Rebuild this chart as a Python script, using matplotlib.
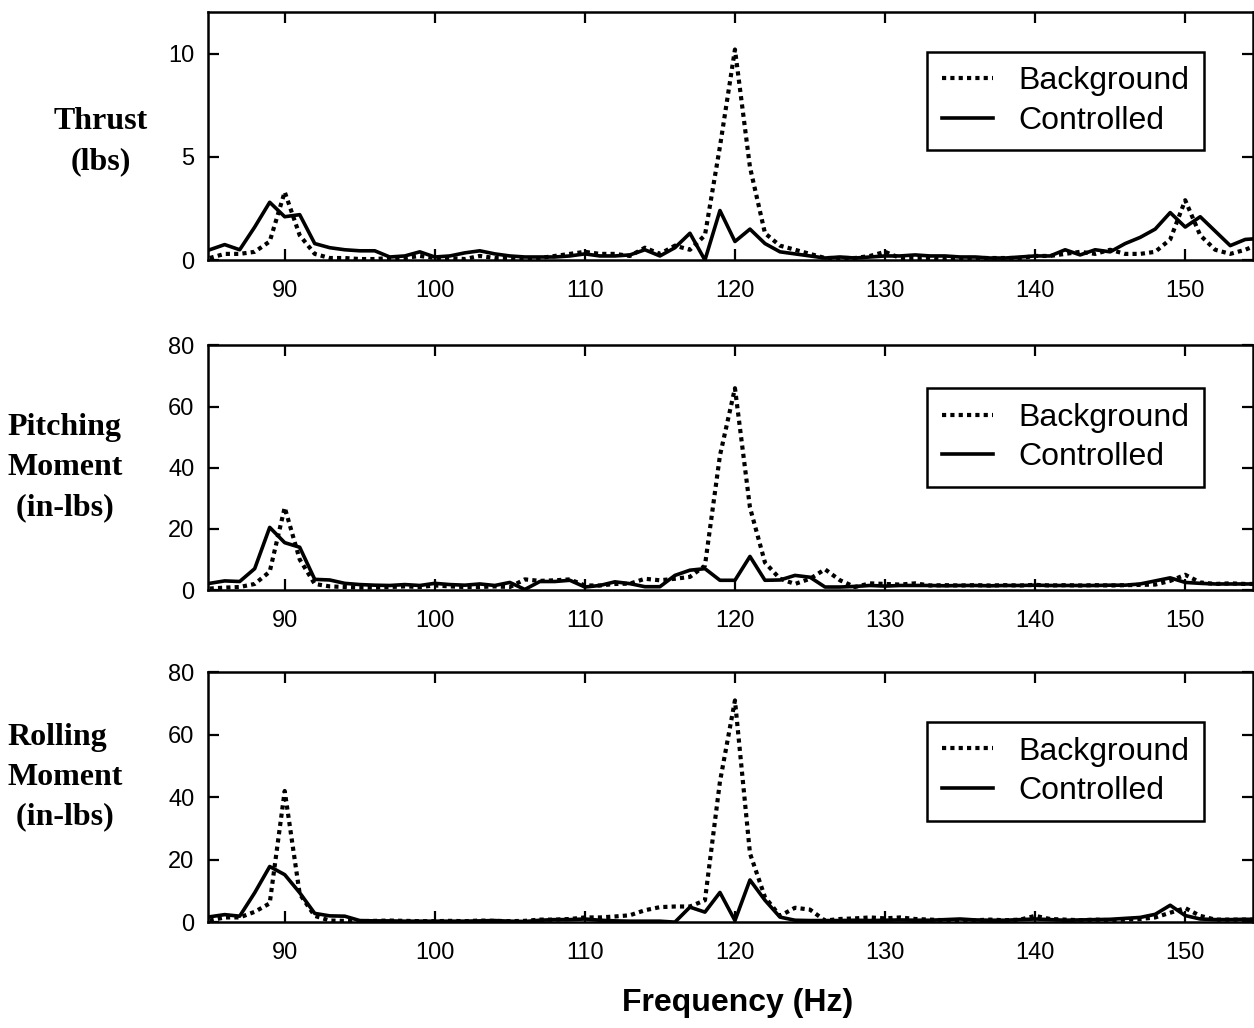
import matplotlib
matplotlib.use("Agg")
import matplotlib.pyplot as plt
import numpy as np

# frequency grid, 1 Hz steps
freq = np.arange(85, 156)

thrust_controlled = [
    0.5, 0.75, 0.5, 1.6, 2.8, 2.1, 2.2, 0.8, 0.6, 0.5,
    0.45, 0.45, 0.15, 0.2, 0.4, 0.15, 0.2, 0.35, 0.45, 0.3,
    0.2, 0.15, 0.15, 0.15, 0.2, 0.3, 0.2, 0.2, 0.25, 0.5,
    0.2, 0.6, 1.3, 0.0, 2.4, 0.9, 1.5, 0.8, 0.4, 0.3,
    0.2, 0.1, 0.15, 0.1, 0.15, 0.2, 0.2, 0.25, 0.2, 0.2,
    0.15, 0.15, 0.1, 0.1, 0.15, 0.2, 0.2, 0.5, 0.25, 0.5,
    0.4, 0.8, 1.1, 1.5, 2.3, 1.6, 2.1, 1.4, 0.7, 1.0,
    1.05,
]
thrust_background = [
    0.1, 0.3, 0.3, 0.4, 0.9, 3.3, 1.2, 0.3, 0.1, 0.1,
    0.05, 0.05, 0.1, 0.1, 0.2, 0.1, 0.1, 0.05, 0.2, 0.1,
    0.1, 0.05, 0.1, 0.2, 0.3, 0.4, 0.3, 0.3, 0.2, 0.6,
    0.3, 0.7, 0.5, 1.2, 5.5, 10.2, 4.5, 1.3, 0.7, 0.5,
    0.3, 0.1, 0.1, 0.1, 0.2, 0.4, 0.1, 0.1, 0.1, 0.05,
    0.1, 0.1, 0.1, 0.1, 0.1, 0.2, 0.2, 0.3, 0.4, 0.3,
    0.5, 0.3, 0.3, 0.4, 1.0, 2.9, 1.2, 0.5, 0.3, 0.5,
    0.8,
]
pitch_controlled = [
    2.2, 3.0, 2.8, 7.0, 20.5, 15.5, 14.0, 3.5, 3.3, 2.2,
    1.8, 1.6, 1.5, 1.8, 1.5, 2.2, 1.8, 1.6, 2.0, 1.5,
    2.5, 0.2, 2.8, 2.8, 3.2, 1.0, 1.5, 2.7, 2.1, 1.1,
    1.1, 4.8, 6.5, 7.0, 3.2, 3.2, 11.0, 3.2, 3.3, 4.8,
    4.2, 1.0, 1.0, 1.2, 1.5, 1.3, 1.5, 1.5, 1.5, 1.4,
    1.5, 1.5, 1.4, 1.5, 1.5, 1.6, 1.5, 1.5, 1.5, 1.5,
    1.6, 1.6, 2.0, 3.0, 4.0, 2.5, 2.2, 2.0, 2.0, 2.0,
    2.0,
]
pitch_background = [
    0.5, 0.8, 1.0, 2.0, 6.0, 27.0, 10.0, 2.0, 1.2, 1.0,
    0.8, 0.8, 1.0, 1.2, 1.0, 1.5, 1.2, 1.0, 1.0, 1.2,
    1.0, 3.5, 3.0, 3.2, 3.5, 1.5, 1.5, 2.0, 2.1, 3.7,
    3.2, 3.7, 4.3, 8.0, 44.0, 66.0, 27.0, 9.0, 3.7, 2.0,
    3.7, 6.8, 3.2, 1.0, 2.2, 2.0, 1.8, 2.2, 1.5, 1.6,
    1.5, 1.6, 1.5, 1.6, 1.5, 1.7, 1.5, 1.6, 1.5, 1.6,
    1.5, 1.6, 1.7, 1.8, 3.0, 5.0, 2.5, 2.0, 2.2, 2.0,
    2.0,
]
roll_controlled = [
    1.7, 2.4, 1.9, 9.4, 17.8, 15.2, 9.4, 2.8, 2.0, 1.9,
    0.5, 0.4, 0.4, 0.3, 0.3, 0.3, 0.3, 0.3, 0.4, 0.5,
    0.3, 0.2, 0.6, 0.8, 0.8, 1.0, 0.6, 0.4, 0.3, 0.3,
    0.3, 0.0, 4.8, 3.2, 9.5, 0.5, 13.5, 7.0, 1.6, 0.6,
    0.5, 0.5, 0.5, 0.6, 0.5, 0.6, 0.7, 0.6, 0.6, 0.8,
    1.0, 0.7, 0.6, 0.6, 0.8, 1.0, 0.8, 0.6, 0.7, 0.8,
    0.9, 1.2, 1.5, 2.5, 5.4, 2.1, 1.0, 0.8, 0.8, 0.9,
    0.9,
]
roll_background = [
    0.5, 1.5, 1.5, 3.3, 6.0, 42.0, 9.0, 2.0, 0.5, 0.4,
    0.3, 0.4, 0.5, 0.4, 0.3, 0.3, 0.4, 0.3, 0.5, 0.4,
    0.3, 0.4, 0.8, 0.8, 1.0, 1.5, 1.5, 1.8, 2.2, 3.8,
    4.8, 5.0, 5.0, 7.0, 45.0, 71.0, 22.0, 8.0, 2.0, 4.6,
    4.0, 0.5, 1.0, 1.2, 1.5, 1.2, 1.5, 1.0, 0.8, 0.6,
    0.5, 0.6, 0.8, 0.6, 0.8, 2.0, 1.0, 0.8, 0.6, 0.8,
    0.6, 0.8, 1.0, 1.5, 3.0, 4.5, 2.0, 0.8, 0.8, 0.8,
    0.8,
]

panel_labels = ["Thrust\n(lbs)", "Pitching\nMoment\n (in-lbs)", "Rolling\nMoment\n (in-lbs)"]
y_limits = [12, 80, 80]
y_ticks = [[0, 5, 10], [0, 20, 40, 60, 80], [0, 20, 40, 60, 80]]
x_ticks = [90, 100, 110, 120, 130, 140, 150]

SANS = ["Liberation Sans", "DejaVu Sans"]
SERIF = ["Liberation Serif", "DejaVu Serif"]

# axes boxes in figure fraction [left, bottom, width, height]
boxes = [
    [0.166, 0.747, 0.833, 0.241],
    [0.166, 0.426, 0.833, 0.238],
    [0.166, 0.103, 0.833, 0.243],
]
# label anchor: (x, y, horizontal alignment)
label_pos = [(0.08, 0.862, "center"), (0.006, 0.545, "left"), (0.006, 0.244, "left")]
legend_top = [0.84, 0.824, 0.80]

series = [
    (thrust_background, thrust_controlled),
    (pitch_background, pitch_controlled),
    (roll_background, roll_controlled),
]

fig = plt.figure(figsize=(12.54, 10.28), dpi=100)

for i, (background, controlled) in enumerate(series):
    ax = fig.add_axes(boxes[i])
    ax.plot(freq, background, color="black", linewidth=3.0, linestyle=(0, (1, 1.0)),
            label="Background")
    ax.plot(freq, controlled, color="black", linewidth=2.6, label="Controlled")
    ax.set_xlim(84.9, 154.5)
    ax.set_ylim(0, y_limits[i])
    ax.set_xticks(x_ticks)
    ax.set_yticks(y_ticks[i])
    ax.tick_params(direction="in", top=True, right=True, length=8, width=1.6,
                   labelsize=17)
    ax.tick_params(axis="x", pad=14)
    ax.tick_params(axis="y", pad=10)
    for label in ax.get_xticklabels() + ax.get_yticklabels():
        label.set_family(SANS)
    for spine in ax.spines.values():
        spine.set_linewidth(1.8)

    leg = ax.legend(loc="upper right", bbox_to_anchor=(0.953, legend_top[i]),
                    borderaxespad=0, fancybox=False, framealpha=1,
                    handlelength=1.6, handletextpad=0.8, borderpad=0.45,
                    labelspacing=0.3, prop={"family": SANS, "size": 23})
    leg.get_frame().set_edgecolor("black")
    leg.get_frame().set_linewidth(1.8)

    lx, ly, ha = label_pos[i]
    fig.text(lx, ly, panel_labels[i], ha=ha, va="center", multialignment=ha,
             family=SERIF, fontweight="bold", fontsize=23, linespacing=1.5)

fig.text(0.588, 0.024, "Frequency (Hz)", ha="center", va="center",
         family=SANS, fontweight="bold", fontsize=23)

fig.savefig("out.png", dpi=100)
